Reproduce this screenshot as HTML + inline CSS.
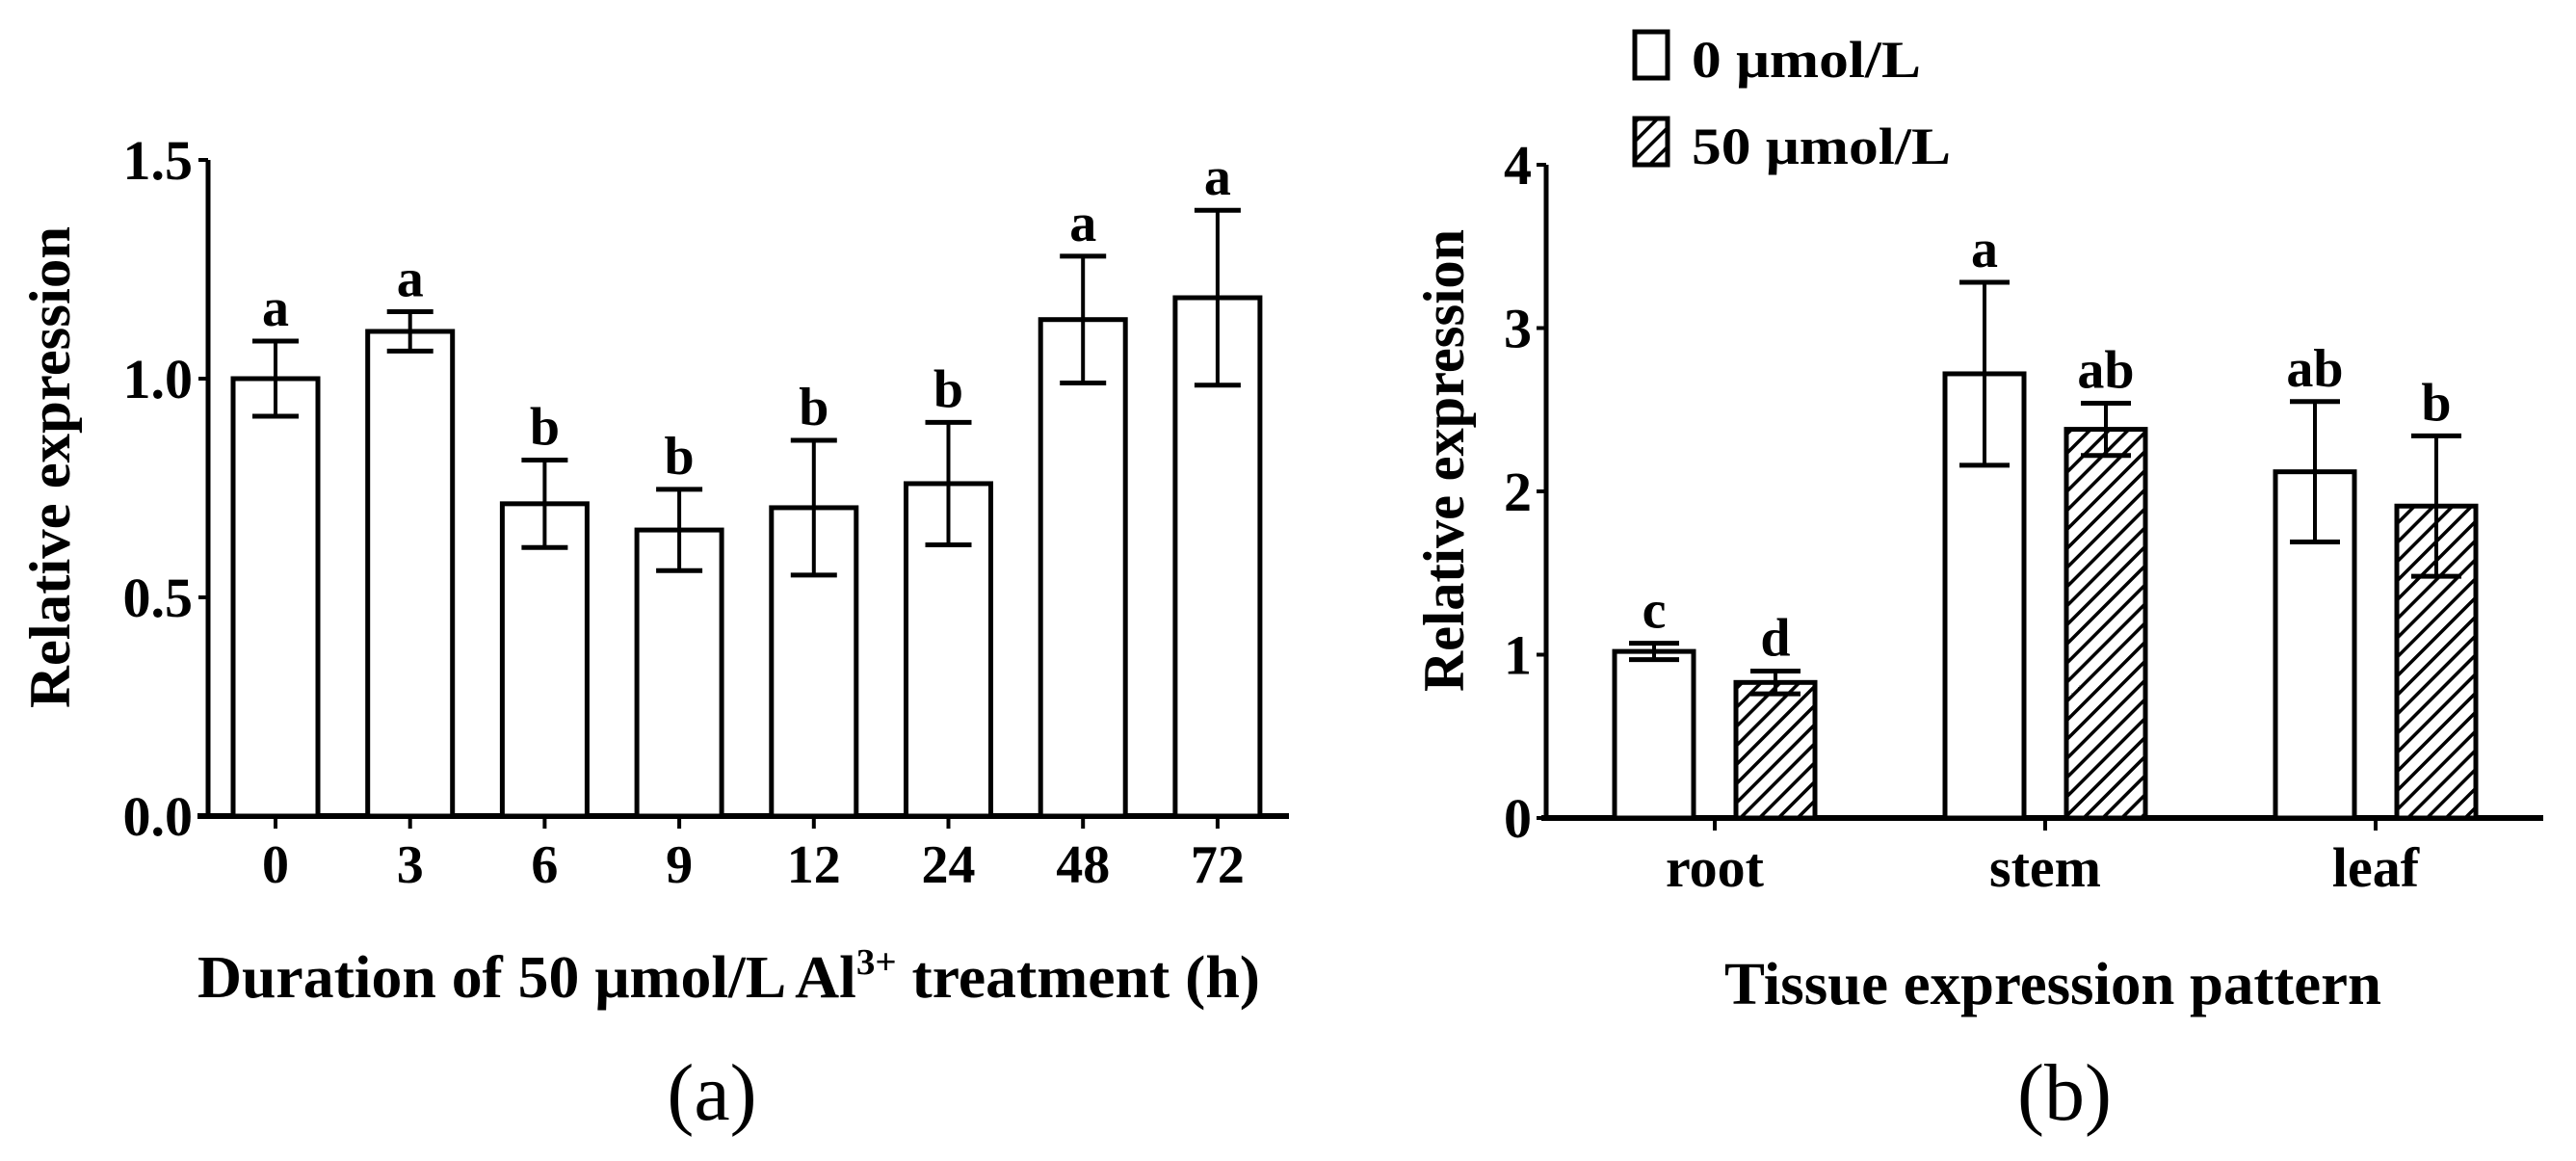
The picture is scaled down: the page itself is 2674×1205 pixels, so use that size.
<!DOCTYPE html>
<html><head><meta charset="utf-8"><style>
html,body{margin:0;padding:0;background:#fff;}
svg{display:block;}
text{font-family:"Liberation Serif",serif;fill:#000;}
</style></head><body>
<svg id="fig" width="2674" height="1205" viewBox="0 0 2674 1205" xmlns="http://www.w3.org/2000/svg">
<defs>
<pattern id="hatch" patternUnits="userSpaceOnUse" width="14" height="14" patternTransform="rotate(45)">
<rect width="14" height="14" fill="#fff"/>
<line x1="0" y1="0" x2="0" y2="14" stroke="#000" stroke-width="7"/>
</pattern>
</defs>
<g id="chartA"></g>
<g id="chartB"></g>
</svg>
<script>
// Chart (a) data
const catsA = ['0','3','6','9','12','24','48','72'];
const valsA = [1.0,1.108,0.714,0.654,0.705,0.76,1.135,1.185];
const errsA = [0.086,0.045,0.1,0.093,0.154,0.14,0.145,0.2];
const lettersA = ['a','a','b','b','b','b','a','a'];
const ticksA = [0,0.5,1.0,1.5];
const tickLabelsA = ['0.0','0.5','1.0','1.5'];
// Chart (b) data
const catsB = ['root','stem','leaf'];
const vals0 = [1.02,2.72,2.12];
const errs0 = [0.05,0.56,0.43];
const vals50 = [0.83,2.38,1.91];
const errs50 = [0.07,0.16,0.43];
const letters0 = ['c','a','ab'];
const letters50 = ['d','ab','b'];
const ticksB = [0,1,2,3,4];
const seriesNames = ['0 μmol/L','50 μmol/L'];

const NS='http://www.w3.org/2000/svg';
function mk(parent,tag,attrs,txt){const e=document.createElementNS(NS,tag);for(const k in attrs)e.setAttribute(k,attrs[k]);if(txt!==undefined)e.textContent=txt;parent.appendChild(e);return e;}

// ---- chart A ----
const gA=document.getElementById('chartA');
const yA=v=>847-v*(847-166)/1.5;
const xA=i=>286+i*139.7;
const bwA=88;
let e;
e=mk(gA,'line',{x1:216,y1:166,x2:216,y2:849,stroke:'#000','stroke-width':5});

e=mk(gA,'line',{x1:205,y1:847,x2:1338,y2:847,stroke:'#000','stroke-width':6});

ticksA.forEach((t,i)=>{
  mk(gA,'line',{x1:206,y1:yA(t),x2:216,y2:yA(t),stroke:'#000','stroke-width':4});
  e=mk(gA,'text',{x:200,y:yA(t)+20,'text-anchor':'end','font-size':58,'font-weight':'bold'},tickLabelsA[i]);
  
});
catsA.forEach((c,i)=>{
  const x=xA(i),v=valsA[i],er=errsA[i];
  e=mk(gA,'rect',{x:x-bwA/2,y:yA(v),width:bwA,height:847-yA(v),fill:'#fff',stroke:'#000','stroke-width':5});
  
  mk(gA,'line',{x1:x,y1:yA(v+er),x2:x,y2:yA(v-er),stroke:'#000','stroke-width':4});
  mk(gA,'line',{x1:x-24,y1:yA(v+er),x2:x+24,y2:yA(v+er),stroke:'#000','stroke-width':5});
  mk(gA,'line',{x1:x-24,y1:yA(v-er),x2:x+24,y2:yA(v-er),stroke:'#000','stroke-width':5});
  e=mk(gA,'text',{x:x,y:yA(v+er)-16,'text-anchor':'middle','font-size':56,'font-weight':'bold'},lettersA[i]);
  
  mk(gA,'line',{x1:x,y1:847,x2:x,y2:860,stroke:'#000','stroke-width':4});
  e=mk(gA,'text',{x:x,y:916,'text-anchor':'middle','font-size':56,'font-weight':'bold'},c);
  
});
e=mk(gA,'text',{x:52,y:485,'text-anchor':'middle','font-size':60,'font-weight':'bold',transform:'rotate(-90 52 485)',dy:20,textLength:500,lengthAdjust:'spacingAndGlyphs'},'Relative expression');

e=mk(gA,'text',{x:205,y:1035,'font-size':62,'font-weight':'bold',textLength:1103,lengthAdjust:'spacingAndGlyphs'});

e.appendChild(document.createTextNode('Duration of 50 μmol/L Al'));
const sup=mk(e,'tspan',{'font-size':38,dy:-24},'3+');
mk(e,'tspan',{dy:24},' treatment (h)');
e=mk(gA,'text',{x:739,y:1162,'text-anchor':'middle','font-size':84},'(a)');


// ---- chart B ----
const gB=document.getElementById('chartB');
const yB=v=>849-v*(849-171)/4;
const xB=i=>1780+i*343;
const bwB=82, off=63;
e=mk(gB,'line',{x1:1605,y1:171,x2:1605,y2:851,stroke:'#000','stroke-width':5});

e=mk(gB,'line',{x1:1600,y1:849,x2:2640,y2:849,stroke:'#000','stroke-width':6});

ticksB.forEach(t=>{
  mk(gB,'line',{x1:1595,y1:yB(t),x2:1605,y2:yB(t),stroke:'#000','stroke-width':4});
  e=mk(gB,'text',{x:1590,y:yB(t)+20,'text-anchor':'end','font-size':58,'font-weight':'bold'},String(t));
  
});
function barB(x,v,er,letter,fill,name){
  e=mk(gB,'rect',{x:x-bwB/2,y:yB(v),width:bwB,height:849-yB(v),fill:fill,stroke:'#000','stroke-width':5});
  
  mk(gB,'line',{x1:x,y1:yB(v+er),x2:x,y2:yB(v-er),stroke:'#000','stroke-width':4});
  mk(gB,'line',{x1:x-26,y1:yB(v+er),x2:x+26,y2:yB(v+er),stroke:'#000','stroke-width':5});
  mk(gB,'line',{x1:x-26,y1:yB(v-er),x2:x+26,y2:yB(v-er),stroke:'#000','stroke-width':5});
  e=mk(gB,'text',{x:x,y:yB(v+er)-16,'text-anchor':'middle','font-size':56,'font-weight':'bold'},letter);
  
}
catsB.forEach((c,i)=>{
  const x=xB(i);
  barB(x-off,vals0[i],errs0[i],letters0[i],'#fff','bar-'+c+'-0');
  barB(x+off,vals50[i],errs50[i],letters50[i],'url(#hatch)','bar-'+c+'-50');
  mk(gB,'line',{x1:x,y1:849,x2:x,y2:862,stroke:'#000','stroke-width':4});
  e=mk(gB,'text',{x:x,y:920,'text-anchor':'middle','font-size':58,'font-weight':'bold'},c);
  
});
e=mk(gB,'text',{x:1499,y:478,'text-anchor':'middle','font-size':60,'font-weight':'bold',transform:'rotate(-90 1499 478)',dy:20,textLength:480,lengthAdjust:'spacingAndGlyphs'},'Relative expression');

e=mk(gB,'text',{x:2131,y:1042,'text-anchor':'middle','font-size':62,'font-weight':'bold',textLength:682,lengthAdjust:'spacingAndGlyphs'},'Tissue expression pattern');

e=mk(gB,'text',{x:2143,y:1162,'text-anchor':'middle','font-size':84},'(b)');

// legend
const legFills=['#fff','url(#hatch)'];
const legLens=[238,269];
seriesNames.forEach((s,i)=>{
  const y0=33+i*90;
  e=mk(gB,'rect',{x:1697,y:y0,width:34,height:48,fill:legFills[i],stroke:'#000','stroke-width':5});
  
  e=mk(gB,'text',{x:1756,y:y0+47,'font-size':54,'font-weight':'bold',textLength:legLens[i],lengthAdjust:'spacingAndGlyphs'},s);
  
});
</script>
</body></html>
